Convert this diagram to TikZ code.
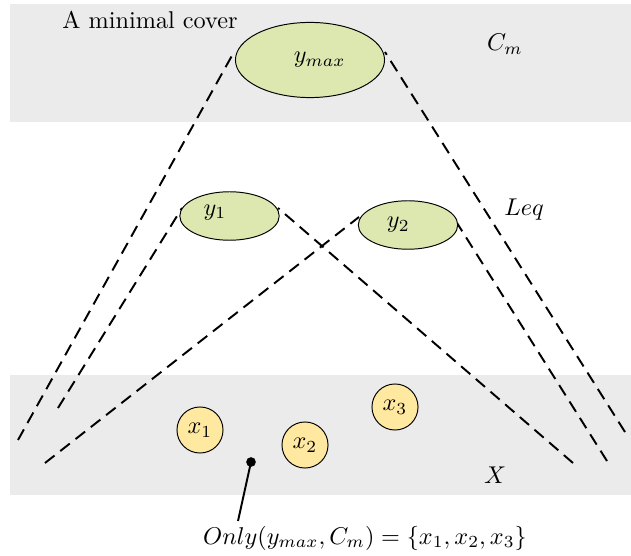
\documentclass[tikz,border=0pt]{standalone}
\usetikzlibrary{shapes.geometric}
\definecolor{bandgray}{RGB}{235,235,235}
\definecolor{ygreen}{RGB}{221,232,176}
\definecolor{xyellow}{RGB}{255,233,160}
\tikzset{
	yset/.style={ellipse, draw, fill=ygreen, inner sep=0pt},
	xelem/.style={circle, draw, fill=xyellow, inner sep=0pt, minimum size=19pt},
	cover/.style={dash pattern=on 5pt off 3pt, line width=0.8pt},
}
\begin{document}
\begin{tikzpicture}[x=0.0145cm, y=-0.0145cm, line join=round]
	\useasboundingbox (0, 0) rectangle (631, 556);
	% the two gray bands
	\fill[bandgray] (10, 4) rectangle (631, 122);
	\fill[bandgray] (10, 375) rectangle (631, 495);
	\node (title) at (150, 20) {A minimal cover};
	\node (Cm) at (505, 44) {$C_m$};
	\node (Leq) at (524, 210) {$Leq$};
	\node (X) at (495, 475) {$X$};
	% free ends of the dashed lines
	\coordinate (a) at (18, 440);
	\coordinate (b) at (58, 408);
	\coordinate (c) at (45, 463);
	\coordinate (d) at (573, 463);
	\coordinate (e) at (607, 461);
	\coordinate (f) at (625, 432);
	\draw[cover] (a) -- (234, 52) coordinate (ymaxL);
	\draw[cover] (f) -- (385, 52) coordinate (ymaxR);
	\draw[cover] (b) -- (182, 208);
	\draw[cover] (d) -- (278, 208);
	\draw[cover] (c) -- (359, 217);
	\draw[cover] (e) -- (457, 223);
	\node[yset, minimum width=61.5pt, minimum height=31pt,
		label={[xshift=4pt]center:$y_{max}$}] (ymax) at (310, 60) {};
	\node[yset, minimum width=41pt, minimum height=20pt,
		label={[xshift=-6pt, yshift=1.5pt]center:$y_1$}] (y1) at (229.5, 216) {};
	\node[yset, minimum width=41pt, minimum height=20pt,
		label={[xshift=-4pt]center:$y_2$}] (y2) at (408, 225) {};
	\node[xelem] (x1) at (200, 430) {$x_1$};
	\node[xelem] (x2) at (305, 445) {$x_2$};
	\node[xelem] (x3) at (395, 407) {$x_3$};
	\fill (251, 462) circle (2pt) coordinate (dot);
	\node (only) at (365, 538) {$Only(y_{max}, C_m) = \{x_1, x_2, x_3\}$};
	\coordinate (pin) at (238, 521);
	\draw[line width=0.8pt] (dot) -- (pin);
\end{tikzpicture}
\end{document}
